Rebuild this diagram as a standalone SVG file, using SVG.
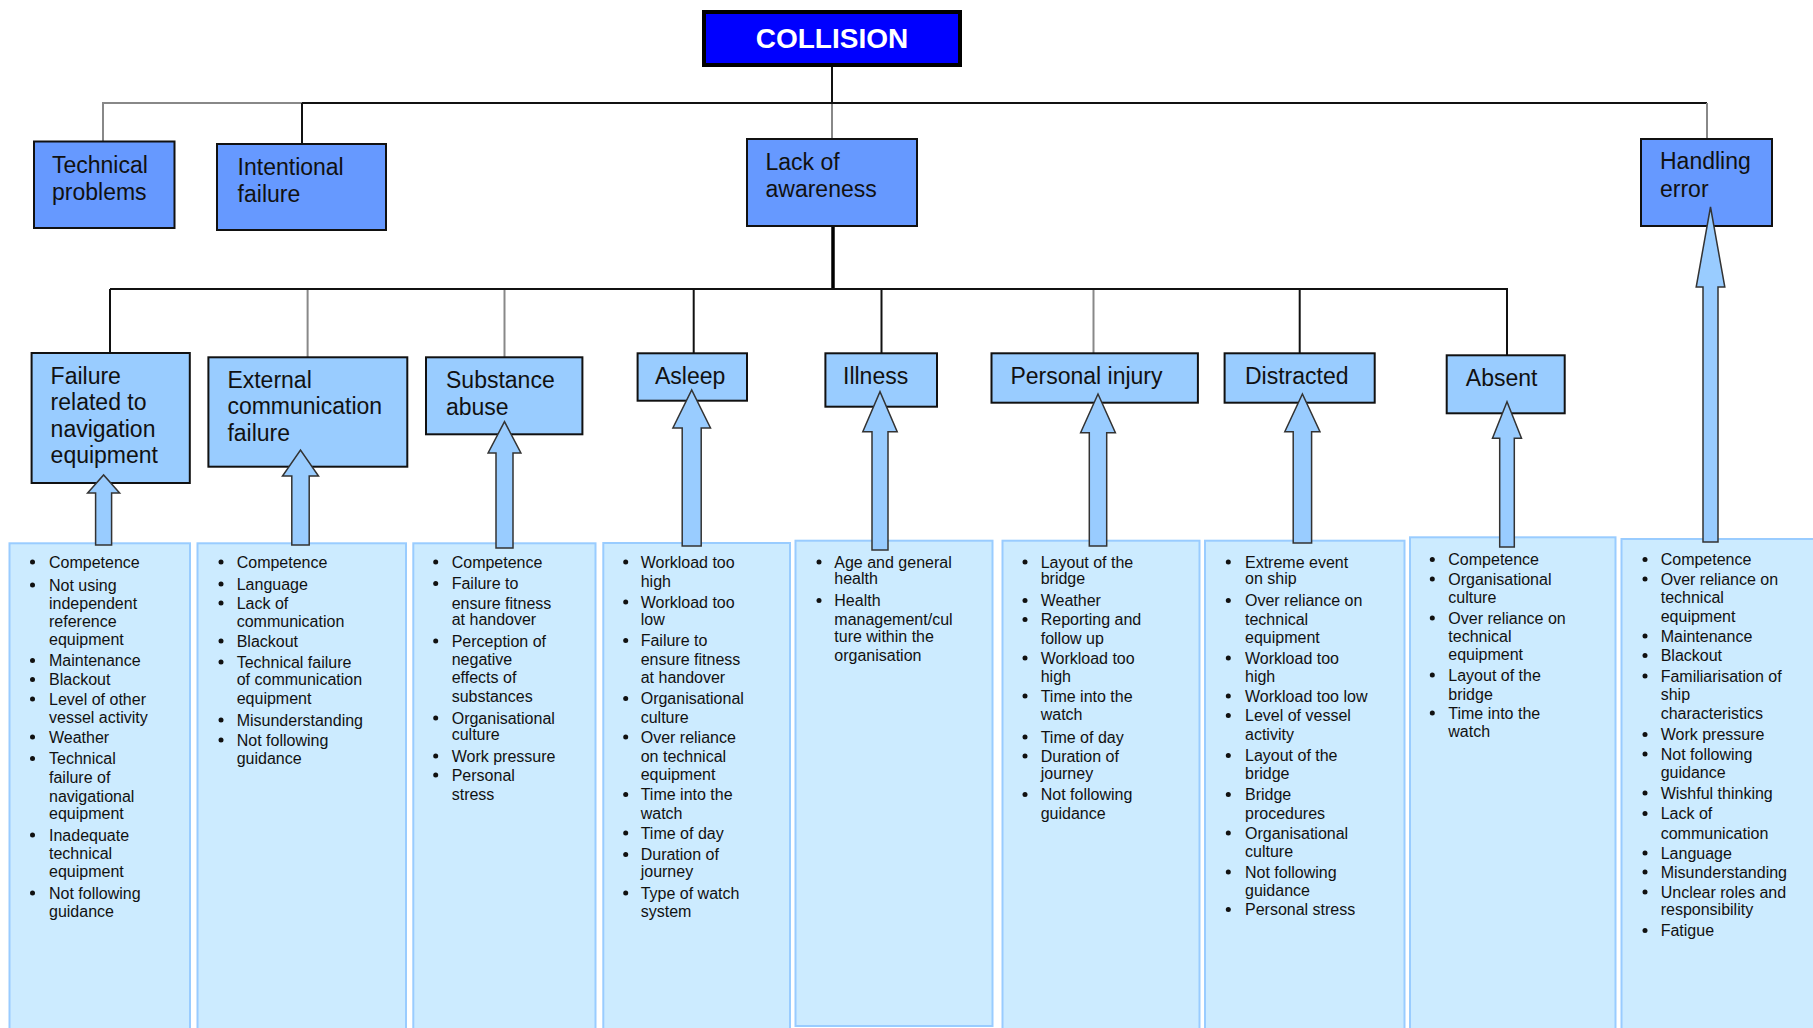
<svg xmlns="http://www.w3.org/2000/svg" width="1813" height="1028" viewBox="0 0 1813 1028">
<style>
.bg{fill:#fff}
.n0{fill:#0000FF;stroke:#000;stroke-width:4}
.n1{fill:#6699FF;stroke:#111;stroke-width:2}
.n2{fill:#99CCFF;stroke:#111;stroke-width:2}
.lst{fill:#CCEBFF;stroke:#99CCFF;stroke-width:2}
text{font-family:"Liberation Sans",Arial,sans-serif;fill:#111}
.t0{font-size:28px;font-weight:bold;fill:#fff}
.t1{font-size:23px}
.tl{font-size:16px}
.b{fill:#111}
.ar{fill:#99CCFF;stroke:#333;stroke-width:1.5;stroke-linejoin:miter}
.cb{stroke:#111;stroke-width:2;fill:none}
.cg{stroke:#888;stroke-width:2;fill:none}
.ct{stroke:#000;stroke-width:3.5;fill:none}
</style>
<rect class="bg" x="0" y="0" width="1813" height="1028"/>

<g id="connectors">
<line class="cb" x1="832" y1="65" x2="832" y2="103"/>
<line class="cg" x1="103" y1="103" x2="302" y2="103"/>
<line class="cb" x1="302" y1="103" x2="1707" y2="103"/>
<line class="cg" x1="103" y1="102" x2="103" y2="141.5"/>
<line class="cb" x1="302" y1="103" x2="302" y2="144"/>
<line class="cg" x1="832" y1="104" x2="832" y2="139"/>
<line class="cg" x1="1707" y1="103" x2="1707" y2="139"/>
<line class="ct" x1="833" y1="226" x2="833" y2="290"/>
<line class="cb" x1="110" y1="289" x2="1507" y2="289"/>
<line class="cb" x1="110" y1="289" x2="110" y2="353"/>
<line class="cg" x1="307.6" y1="290" x2="307.6" y2="357.3"/>
<line class="cg" x1="504.5" y1="290" x2="504.5" y2="357.3"/>
<line class="cb" x1="693.7" y1="289" x2="693.7" y2="353.3"/>
<line class="cb" x1="881.5" y1="289" x2="881.5" y2="353.3"/>
<line class="cg" x1="1093.5" y1="290" x2="1093.5" y2="353.3"/>
<line class="cb" x1="1299.7" y1="289" x2="1299.7" y2="353.3"/>
<line class="cb" x1="1507" y1="288" x2="1507" y2="355.3"/>
</g>

<g id="list-boxes">
<rect class="lst" x="9.5" y="543.3" width="180.5" height="490"/>
<rect class="lst" x="197.5" y="543.3" width="208.5" height="490"/>
<rect class="lst" x="413.3" y="543.3" width="182.2" height="490"/>
<rect class="lst" x="603.3" y="543" width="186.7" height="490"/>
<rect class="lst" x="795.5" y="540.7" width="197" height="485.3"/>
<rect class="lst" x="1002.5" y="540.7" width="197" height="490"/>
<rect class="lst" x="1205" y="540.7" width="199.5" height="490"/>
<rect class="lst" x="1410" y="537.3" width="205.5" height="495"/>
<rect class="lst" x="1621.5" y="539" width="200" height="495"/>
</g>

<g id="collision">
<rect class="n0" x="704" y="12" width="256" height="53"/>
<text class="t0" x="832" y="48" text-anchor="middle">COLLISION</text>
</g>

<g id="technical-problems">
<rect class="n1" x="34" y="141.5" width="140.5" height="86.5"/>
<text class="t1"><tspan x="52" y="173">Technical</tspan><tspan x="52" y="200">problems</tspan></text>
</g>
<g id="intentional-failure">
<rect class="n1" x="217" y="144" width="169" height="86"/>
<text class="t1"><tspan x="237.6" y="175">Intentional</tspan><tspan x="237.6" y="202">failure</tspan></text>
</g>
<g id="lack-of-awareness">
<rect class="n1" x="747" y="139" width="170" height="87"/>
<text class="t1"><tspan x="765.5" y="170">Lack of</tspan><tspan x="765.5" y="197">awareness</tspan></text>
</g>
<g id="handling-error">
<rect class="n1" x="1641" y="139" width="131" height="87"/>
<text class="t1"><tspan x="1660" y="169">Handling</tspan><tspan x="1660" y="197">error</tspan></text>
</g>

<g id="failure-navigation">
<rect class="n2" x="31.6" y="353" width="158.2" height="130"/>
<text class="t1"><tspan x="50.6" y="383.5">Failure</tspan><tspan x="50.6" y="410">related to</tspan><tspan x="50.6" y="436.5">navigation</tspan><tspan x="50.6" y="463">equipment</tspan></text>
</g>
<g id="external-communication">
<rect class="n2" x="208.4" y="357.3" width="198.9" height="109.4"/>
<text class="t1"><tspan x="227.4" y="387.5">External</tspan><tspan x="227.4" y="414">communication</tspan><tspan x="227.4" y="440.7">failure</tspan></text>
</g>
<g id="substance-abuse">
<rect class="n2" x="426" y="357.3" width="156.4" height="77"/>
<text class="t1"><tspan x="446" y="387.5">Substance</tspan><tspan x="446" y="415">abuse</tspan></text>
</g>
<g id="asleep">
<rect class="n2" x="637.6" y="353.3" width="109.4" height="47.4"/>
<text class="t1" x="655" y="383.5">Asleep</text>
</g>
<g id="illness">
<rect class="n2" x="825.4" y="353.3" width="111.6" height="53.4"/>
<text class="t1" x="843" y="383.5">Illness</text>
</g>
<g id="personal-injury">
<rect class="n2" x="991.5" y="353.3" width="206.4" height="49.4"/>
<text class="t1" x="1010.4" y="383.5">Personal injury</text>
</g>
<g id="distracted">
<rect class="n2" x="1224.6" y="353.3" width="150.1" height="49.4"/>
<text class="t1" x="1245" y="383.5">Distracted</text>
</g>
<g id="absent">
<rect class="n2" x="1446.7" y="355.3" width="118" height="58"/>
<text class="t1" x="1465.8" y="386">Absent</text>
</g>

<g id="list-failure-navigation">
<g class="b"><circle cx="32.5" cy="562" r="2.5"/><circle cx="32.5" cy="585" r="2.5"/><circle cx="32.5" cy="660.5" r="2.5"/><circle cx="32.5" cy="679.5" r="2.5"/><circle cx="32.5" cy="699" r="2.5"/><circle cx="32.5" cy="737" r="2.5"/><circle cx="32.5" cy="758.5" r="2.5"/><circle cx="32.5" cy="835" r="2.5"/><circle cx="32.5" cy="893" r="2.5"/></g>
<text class="tl"><tspan x="49" y="567.5">Competence</tspan><tspan x="49" y="590.5">Not using</tspan><tspan x="49" y="609">independent</tspan><tspan x="49" y="626.5">reference</tspan><tspan x="49" y="644.5">equipment</tspan><tspan x="49" y="666">Maintenance</tspan><tspan x="49" y="685">Blackout</tspan><tspan x="49" y="704.5">Level of other</tspan><tspan x="49" y="723">vessel activity</tspan><tspan x="49" y="742.5">Weather</tspan><tspan x="49" y="764">Technical</tspan><tspan x="49" y="782.5">failure of</tspan><tspan x="49" y="801.5">navigational</tspan><tspan x="49" y="819">equipment</tspan><tspan x="49" y="840.5">Inadequate</tspan><tspan x="49" y="859">technical</tspan><tspan x="49" y="877">equipment</tspan><tspan x="49" y="898.5">Not following</tspan><tspan x="49" y="916.5">guidance</tspan></text>
</g>

<g id="list-external-communication">
<g class="b"><circle cx="221" cy="562" r="2.5"/><circle cx="221" cy="584" r="2.5"/><circle cx="221" cy="603" r="2.5"/><circle cx="221" cy="641" r="2.5"/><circle cx="221" cy="662" r="2.5"/><circle cx="221" cy="720" r="2.5"/><circle cx="221" cy="740" r="2.5"/></g>
<text class="tl"><tspan x="236.7" y="567.5">Competence</tspan><tspan x="236.7" y="589.5">Language</tspan><tspan x="236.7" y="608.5">Lack of</tspan><tspan x="236.7" y="626.5">communication</tspan><tspan x="236.7" y="646.5">Blackout</tspan><tspan x="236.7" y="667.5">Technical failure</tspan><tspan x="236.7" y="685">of communication</tspan><tspan x="236.7" y="703.5">equipment</tspan><tspan x="236.7" y="725.5">Misunderstanding</tspan><tspan x="236.7" y="745.5">Not following</tspan><tspan x="236.7" y="763.5">guidance</tspan></text>
</g>

<g id="list-substance-abuse">
<g class="b"><circle cx="435.7" cy="562" r="2.5"/><circle cx="435.7" cy="583.5" r="2.5"/><circle cx="435.7" cy="641" r="2.5"/><circle cx="435.7" cy="718" r="2.5"/><circle cx="435.7" cy="756" r="2.5"/><circle cx="435.7" cy="775" r="2.5"/></g>
<text class="tl"><tspan x="451.7" y="567.5">Competence</tspan><tspan x="451.7" y="589">Failure to</tspan><tspan x="451.7" y="608.5">ensure fitness</tspan><tspan x="451.7" y="625">at handover</tspan><tspan x="451.7" y="646.5">Perception of</tspan><tspan x="451.7" y="665">negative</tspan><tspan x="451.7" y="682.5">effects of</tspan><tspan x="451.7" y="701.5">substances</tspan><tspan x="451.7" y="723.5">Organisational</tspan><tspan x="451.7" y="740">culture</tspan><tspan x="451.7" y="761.5">Work pressure</tspan><tspan x="451.7" y="780.5">Personal</tspan><tspan x="451.7" y="800">stress</tspan></text>
</g>

<g id="list-asleep">
<g class="b"><circle cx="625.7" cy="562" r="2.5"/><circle cx="625.7" cy="602" r="2.5"/><circle cx="625.7" cy="640.5" r="2.5"/><circle cx="625.7" cy="698.5" r="2.5"/><circle cx="625.7" cy="737" r="2.5"/><circle cx="625.7" cy="794.5" r="2.5"/><circle cx="625.7" cy="833" r="2.5"/><circle cx="625.7" cy="854.5" r="2.5"/><circle cx="625.7" cy="893" r="2.5"/></g>
<text class="tl"><tspan x="640.7" y="567.5">Workload too</tspan><tspan x="640.7" y="586.5">high</tspan><tspan x="640.7" y="607.5">Workload too</tspan><tspan x="640.7" y="625">low</tspan><tspan x="640.7" y="646">Failure to</tspan><tspan x="640.7" y="665">ensure fitness</tspan><tspan x="640.7" y="682.5">at handover</tspan><tspan x="640.7" y="704">Organisational</tspan><tspan x="640.7" y="722.5">culture</tspan><tspan x="640.7" y="742.5">Over reliance</tspan><tspan x="640.7" y="761.5">on technical</tspan><tspan x="640.7" y="780">equipment</tspan><tspan x="640.7" y="800">Time into the</tspan><tspan x="640.7" y="818.5">watch</tspan><tspan x="640.7" y="838.5">Time of day</tspan><tspan x="640.7" y="860">Duration of</tspan><tspan x="640.7" y="876.5">journey</tspan><tspan x="640.7" y="898.5">Type of watch</tspan><tspan x="640.7" y="916.5">system</tspan></text>
</g>

<g id="list-illness">
<g class="b"><circle cx="819" cy="562" r="2.5"/><circle cx="819" cy="600.5" r="2.5"/></g>
<text class="tl"><tspan x="834.3" y="567.5">Age and general</tspan><tspan x="834.3" y="584">health</tspan><tspan x="834.3" y="606">Health</tspan><tspan x="834.3" y="625">management/cul</tspan><tspan x="834.3" y="641.5">ture within the</tspan><tspan x="834.3" y="660.5">organisation</tspan></text>
</g>

<g id="list-personal-injury">
<g class="b"><circle cx="1025" cy="562" r="2.5"/><circle cx="1025" cy="600.5" r="2.5"/><circle cx="1025" cy="619.5" r="2.5"/><circle cx="1025" cy="658" r="2.5"/><circle cx="1025" cy="696" r="2.5"/><circle cx="1025" cy="737" r="2.5"/><circle cx="1025" cy="756" r="2.5"/><circle cx="1025" cy="794.5" r="2.5"/></g>
<text class="tl"><tspan x="1040.7" y="567.5">Layout of the</tspan><tspan x="1040.7" y="584">bridge</tspan><tspan x="1040.7" y="606">Weather</tspan><tspan x="1040.7" y="625">Reporting and</tspan><tspan x="1040.7" y="643.5">follow up</tspan><tspan x="1040.7" y="663.5">Workload too</tspan><tspan x="1040.7" y="681.5">high</tspan><tspan x="1040.7" y="701.5">Time into the</tspan><tspan x="1040.7" y="720">watch</tspan><tspan x="1040.7" y="742.5">Time of day</tspan><tspan x="1040.7" y="761.5">Duration of</tspan><tspan x="1040.7" y="778.5">journey</tspan><tspan x="1040.7" y="800">Not following</tspan><tspan x="1040.7" y="818.5">guidance</tspan></text>
</g>

<g id="list-distracted">
<g class="b"><circle cx="1228.3" cy="562" r="2.5"/><circle cx="1228.3" cy="600.5" r="2.5"/><circle cx="1228.3" cy="658" r="2.5"/><circle cx="1228.3" cy="696" r="2.5"/><circle cx="1228.3" cy="715.5" r="2.5"/><circle cx="1228.3" cy="755.5" r="2.5"/><circle cx="1228.3" cy="794.5" r="2.5"/><circle cx="1228.3" cy="833" r="2.5"/><circle cx="1228.3" cy="872" r="2.5"/><circle cx="1228.3" cy="909.5" r="2.5"/></g>
<text class="tl"><tspan x="1245" y="567.5">Extreme event</tspan><tspan x="1245" y="584">on ship</tspan><tspan x="1245" y="606">Over reliance on</tspan><tspan x="1245" y="625">technical</tspan><tspan x="1245" y="642.5">equipment</tspan><tspan x="1245" y="663.5">Workload too</tspan><tspan x="1245" y="681.5">high</tspan><tspan x="1245" y="701.5">Workload too low</tspan><tspan x="1245" y="721">Level of vessel</tspan><tspan x="1245" y="739.5">activity</tspan><tspan x="1245" y="761">Layout of the</tspan><tspan x="1245" y="778.5">bridge</tspan><tspan x="1245" y="800">Bridge</tspan><tspan x="1245" y="819">procedures</tspan><tspan x="1245" y="838.5">Organisational</tspan><tspan x="1245" y="856.5">culture</tspan><tspan x="1245" y="877.5">Not following</tspan><tspan x="1245" y="895.5">guidance</tspan><tspan x="1245" y="915">Personal stress</tspan></text>
</g>

<g id="list-absent">
<g class="b"><circle cx="1432.3" cy="559.5" r="2.5"/><circle cx="1432.3" cy="579" r="2.5"/><circle cx="1432.3" cy="618" r="2.5"/><circle cx="1432.3" cy="675" r="2.5"/><circle cx="1432.3" cy="713" r="2.5"/></g>
<text class="tl"><tspan x="1448.3" y="565">Competence</tspan><tspan x="1448.3" y="584.5">Organisational</tspan><tspan x="1448.3" y="602.5">culture</tspan><tspan x="1448.3" y="623.5">Over reliance on</tspan><tspan x="1448.3" y="641.5">technical</tspan><tspan x="1448.3" y="660">equipment</tspan><tspan x="1448.3" y="680.5">Layout of the</tspan><tspan x="1448.3" y="699.5">bridge</tspan><tspan x="1448.3" y="718.5">Time into the</tspan><tspan x="1448.3" y="736.5">watch</tspan></text>
</g>

<g id="list-handling-error">
<g class="b"><circle cx="1645" cy="559.5" r="2.5"/><circle cx="1645" cy="579" r="2.5"/><circle cx="1645" cy="636" r="2.5"/><circle cx="1645" cy="655.5" r="2.5"/><circle cx="1645" cy="676" r="2.5"/><circle cx="1645" cy="734.5" r="2.5"/><circle cx="1645" cy="754" r="2.5"/><circle cx="1645" cy="793" r="2.5"/><circle cx="1645" cy="813.5" r="2.5"/><circle cx="1645" cy="853" r="2.5"/><circle cx="1645" cy="872" r="2.5"/><circle cx="1645" cy="892" r="2.5"/><circle cx="1645" cy="930.5" r="2.5"/></g>
<text class="tl"><tspan x="1660.7" y="565">Competence</tspan><tspan x="1660.7" y="584.5">Over reliance on</tspan><tspan x="1660.7" y="602.5">technical</tspan><tspan x="1660.7" y="621.5">equipment</tspan><tspan x="1660.7" y="641.5">Maintenance</tspan><tspan x="1660.7" y="661">Blackout</tspan><tspan x="1660.7" y="681.5">Familiarisation of</tspan><tspan x="1660.7" y="700">ship</tspan><tspan x="1660.7" y="718.5">characteristics</tspan><tspan x="1660.7" y="740">Work pressure</tspan><tspan x="1660.7" y="759.5">Not following</tspan><tspan x="1660.7" y="777.5">guidance</tspan><tspan x="1660.7" y="798.5">Wishful thinking</tspan><tspan x="1660.7" y="819">Lack of</tspan><tspan x="1660.7" y="838.5">communication</tspan><tspan x="1660.7" y="858.5">Language</tspan><tspan x="1660.7" y="877.5">Misunderstanding</tspan><tspan x="1660.7" y="897.5">Unclear roles and</tspan><tspan x="1660.7" y="915">responsibility</tspan><tspan x="1660.7" y="936">Fatigue</tspan></text>
</g>

<g id="arrows">
<polygon class="ar" points="95.6,545 95.6,493 87.6,493 103.6,475 119.6,493 111.6,493 111.6,545"/>
<polygon class="ar" points="291.8,545 291.8,476 282.5,476 300.5,450 318.5,476 309.2,476 309.2,545"/>
<polygon class="ar" points="496,548 496,453 488.1,453 504.5,421.7 520.9,453 513,453 513,548"/>
<polygon class="ar" points="682.2,546 682.2,428 672.9,428 691.7,390 710.5,428 701.2,428 701.2,546"/>
<polygon class="ar" points="872,550 872,431.7 862.8,431.7 880,391.7 897.2,431.7 888,431.7 888,550"/>
<polygon class="ar" points="1089.3,546 1089.3,432.7 1080.6,432.7 1098,394 1115.4,432.7 1106.7,432.7 1106.7,546"/>
<polygon class="ar" points="1293.2,543 1293.2,431.7 1284.8,431.7 1302.4,394 1320,431.7 1311.6,431.7 1311.6,543"/>
<polygon class="ar" points="1499.7,547 1499.7,438.3 1492.5,438.3 1507,401.7 1521.5,438.3 1514.3,438.3 1514.3,547"/>
<polygon class="ar" points="1703,542 1703,287 1696.2,287 1710.5,207 1724.8,287 1718,287 1718,542"/>
</g>
</svg>
